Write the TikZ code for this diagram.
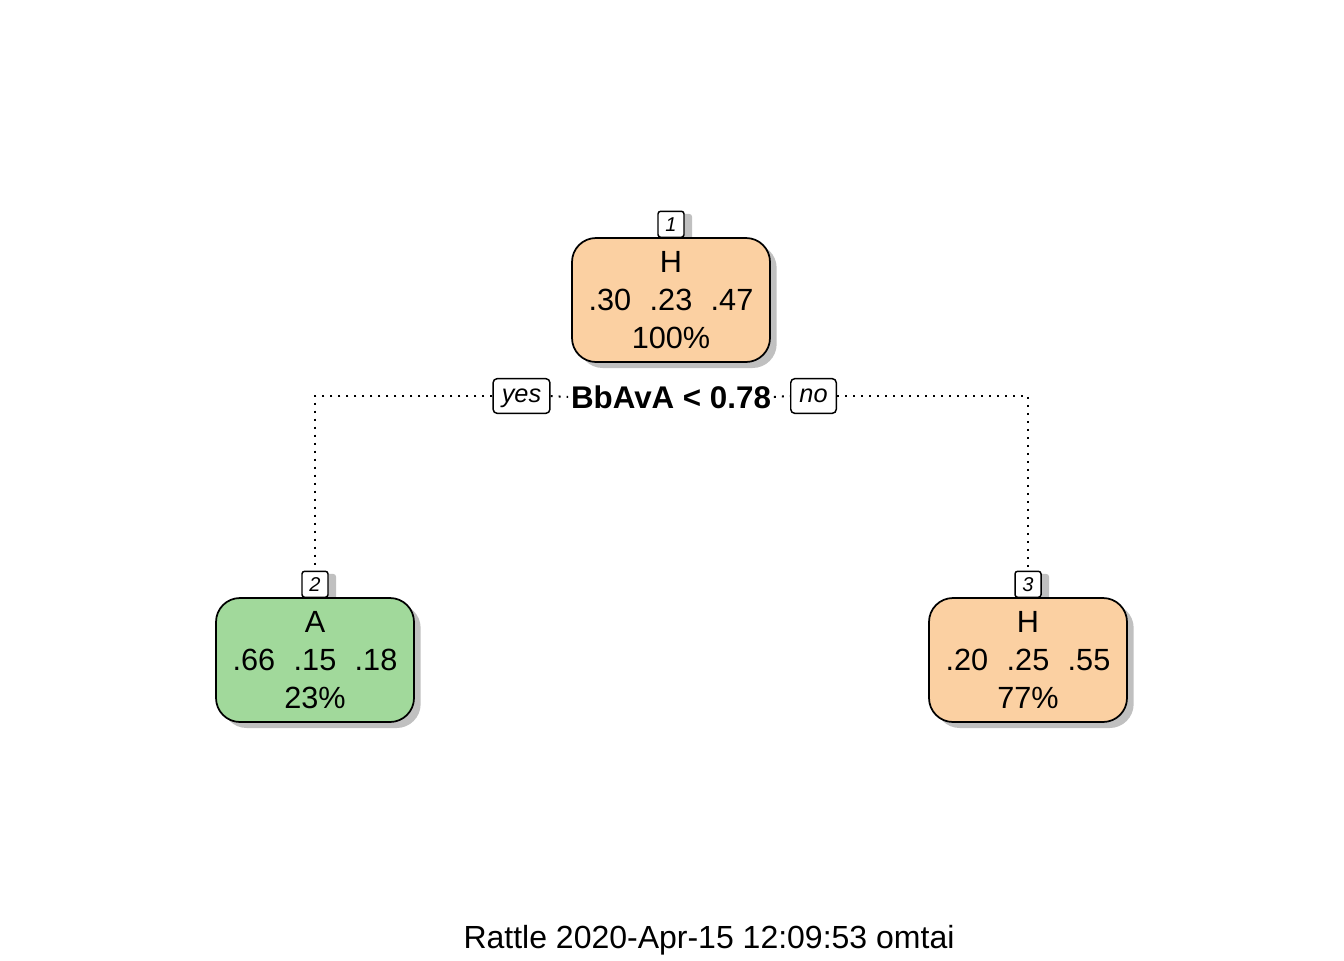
\documentclass[tikz,border=0pt]{standalone}
\usepackage{fontspec}
\setmainfont{Liberation Sans}
\usetikzlibrary{shadows}
\definecolor{peach}{RGB}{251,208,162}
\definecolor{leafgreen}{RGB}{161,217,155}
\definecolor{shade}{RGB}{192,192,192}

\begin{document}
\begin{tikzpicture}[x=0.75pt, y=-0.75pt,
		treenode/.style={draw, line width=1.3pt, rounded corners=18pt,
			minimum width=148.5pt, minimum height=93pt, align=center, inner sep=0pt,
			font=\fontsize{23}{28.5}\selectfont,
			drop shadow={shadow xshift=5pt, shadow yshift=-4.5pt, fill=shade, opacity=1}},
		numbox/.style={draw, line width=1.1pt, fill=white, rounded corners=2pt,
			minimum width=19.5pt, minimum height=19.5pt, inner sep=0pt,
			font=\fontsize{15}{16}\selectfont\itshape,
			drop shadow={shadow xshift=6pt, shadow yshift=-2pt, fill=shade, opacity=1}},
		answer/.style={draw, line width=1.1pt, fill=white, rounded corners=3pt,
			minimum height=26pt, inner xsep=6.5pt, inner ysep=0pt,
			text height=13.7pt, text depth=3.8pt,
			font=\fontsize{19}{20}\selectfont\itshape},
		branch/.style={line width=1.5pt, dash pattern=on 1.5pt off 4.5pt}]
		\useasboundingbox (0,0) rectangle (1344,960);

		% node numbers first, so the boxes cover their shadows
		\node[numbox, anchor=south] at (671, 238) (num1) {1};
		\node[numbox, anchor=south] at (315, 598) (num2) {2};
		\node[numbox, anchor=south] at (1028, 598) (num3) {3};

		\node[treenode, fill=peach] at (671, 300) (root)
			{H\\.30\hspace{0.6em}.23\hspace{0.6em}.47\\100\%};
		\node[treenode, fill=leafgreen] at (315, 660) (leafA)
			{A\\.66\hspace{0.6em}.15\hspace{0.6em}.18\\23\%};
		\node[treenode, fill=peach] at (1028, 660) (leafH)
			{H\\.20\hspace{0.6em}.25\hspace{0.6em}.55\\77\%};

		\node[font=\fontsize{23.5}{28}\selectfont\bfseries, inner sep=2pt] at (671, 397) (split) {BbAvA < 0.78};
		\node[answer] at (521.5, 396) (yes) {yes};
		\node[answer] at (813.5, 396) (no) {no};

		\draw[branch] (yes.west) -| (num2.north);
		\draw[branch] (yes.east) -- (split.west);
		\draw[branch] (split.east) -- (no.west);
		\draw[branch] (no.east) -| (num3.north);

		\node[font=\fontsize{24}{28}\selectfont] at (709, 940) (stamp) {Rattle 2020-Apr-15 12:09:53 omtai};
\end{tikzpicture}
\end{document}
